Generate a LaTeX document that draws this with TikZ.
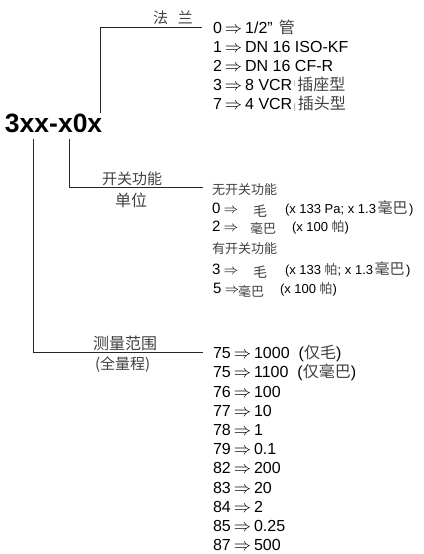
\documentclass[tikz,border=0pt]{standalone}
\usepackage{fontspec}
\setmainfont{Liberation Sans}
\newfontfamily\cjk{Noto Sans CJK SC}
\definecolor{zhc}{gray}{0.25}
\newcommand\zh[1]{{\cjk\color{zhc}#1}}
\newcommand\arr{\hspace{3pt}{\fontsize{16.5}{18}\selectfont$\Rightarrow$}\hspace{3pt}}
\newcommand\sarr{\hspace{3.5pt}{\fontsize{13.5}{15}\selectfont$\Rightarrow$}\hspace{3pt}}
\newcommand\mb{\hspace{1.5pt}\zh{\fontsize{15}{15}\selectfont 毫巴}\hspace{1.5pt}}
\begin{document}
\begin{tikzpicture}[x=1pt,y=-1pt,
  every node/.style={inner sep=0pt,outer sep=0pt},
  row/.style={anchor=base west,font=\fontsize{16}{18}\selectfont},
  urow/.style={anchor=base west,font=\fontsize{15}{18}\selectfont},
  small/.style={anchor=base west,font=\fontsize{13}{15}\selectfont},
  zhlab/.style={anchor=west,font=\fontsize{15}{18}\selectfont},
  zhrow/.style={anchor=west,font=\fontsize{13}{15}\selectfont},
  conn/.style={draw=black!85,line width=0.9pt}]
\useasboundingbox (0,0) rectangle (423,554);
% title
\node[anchor=base west,font=\fontsize{26.5}{30}\selectfont\bfseries] (title) at (5,132) {3xx-x0x};
% connector ends
\coordinate (fa) at (100,113);
\coordinate (fb) at (100,27.5);
\coordinate (fc) at (202,27.5);
\coordinate (ua) at (69,139);
\coordinate (ub) at (69,187);
\coordinate (uc) at (203,187);
\coordinate (ra) at (33,139);
\coordinate (rb) at (33,352);
\coordinate (rc) at (203,352);
\draw[conn] (fa) -- (fb) -- (fc);
\draw[conn] (ua) -- (ub) -- (uc);
\draw[conn] (ra) -- (rb) -- (rc);
% labels
\node[zhlab] (lf) at (153,18) {\zh{法\hspace{10pt}兰}};
\node[zhlab] (lu1) at (102,179) {\zh{开关功能}};
\node[zhlab,font=\fontsize{16}{18}\selectfont] (lu2) at (115,200) {\zh{单位}};
\node[zhlab,font=\fontsize{16}{18}\selectfont] (lr1) at (93,343) {\zh{测量范围}};
\node[zhlab,font=\fontsize{15}{18}\selectfont] (lr2) at (95,365) {\zh{(全量程)}};
% flange list
\node[row] (f0) at (213,33.7) {0\arr 1/2"\hspace{6pt}\zh{管}};
\node[row] (f1) at (213,52.7) {1\arr DN 16 ISO-KF};
\node[row] (f2) at (213,71.7) {2\arr DN 16 CF-R};
\node[row] (f3) at (213,90.7) {3\arr 8 VCR\hspace{1.5pt}\raisebox{5pt}{\fontsize{6}{6}\selectfont\color{black!50}|}\hspace{2pt}\zh{插座型}};
\node[row] (f7) at (213,109.7) {7\arr 4 VCR\hspace{1.5pt}\raisebox{0pt}{\fontsize{8}{8}\selectfont\color{black!50}|}\hspace{2pt}\zh{插头型}};
% units list
\node[zhrow] (un) at (212,190) {\zh{无开关功能}};
\node[urow] (u0a) at (212,213.4) {0\sarr};
\node[zhrow,font=\fontsize{14}{15}\selectfont] (u0b) at (253,211) {\zh{毛}};
\node[small] (u0c) at (285,213.4) {(x 133 Pa; x 1.3\mb)};
\node[urow] (u2a) at (212,231.4) {2\sarr};
\node[zhrow] (u2b) at (250,228) {\zh{毫巴}};
\node[small] (u2c) at (292,231.4) {(x 100 \zh{\fontsize{13}{15}\selectfont 帕})};
\node[zhrow] (uy) at (212,249) {\zh{有开关功能}};
\node[urow] (u3a) at (212,274.4) {3\sarr};
\node[zhrow,font=\fontsize{14}{15}\selectfont] (u3b) at (253,272) {\zh{毛}};
\node[small] (u3c) at (285,274.4) {(x 133 \zh{\fontsize{13}{15}\selectfont 帕}; x 1.3\mb)};
\node[urow] (u5a) at (213,293.4) {5\sarr};
\node[zhrow] (u5b) at (238,291) {\zh{毫巴}};
\node[small] (u5c) at (280,293.4) {(x 100 \zh{\fontsize{13}{15}\selectfont 帕})};
% range list
\node[row] (r0) at (213,358.7) {75\arr 1000\hspace{9pt}(\zh{仅毛})};
\node[row] (r1) at (213,377.9) {75\arr 1100\hspace{9pt}(\zh{仅毫巴})};
\node[row] (r2) at (213,397.1) {76\arr 100};
\node[row] (r3) at (213,416.3) {77\arr 10};
\node[row] (r4) at (213,435.5) {78\arr 1};
\node[row] (r5) at (213,454.7) {79\arr 0.1};
\node[row] (r6) at (213,473.9) {82\arr 200};
\node[row] (r7) at (213,493.1) {83\arr 20};
\node[row] (r8) at (213,512.3) {84\arr 2};
\node[row] (r9) at (213,531.5) {85\arr 0.25};
\node[row] (r10) at (213,550.5) {87\arr 500};
\end{tikzpicture}
\end{document}
